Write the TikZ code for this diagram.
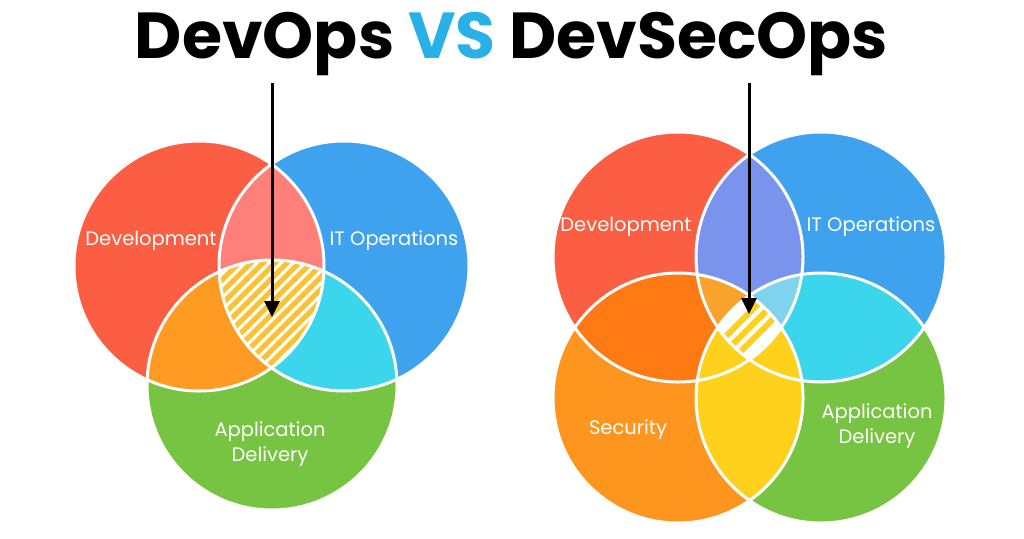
\documentclass[tikz,border=0pt]{standalone}
\usepackage{xcolor}
\usepackage{fontspec}
\setmainfont{Poppins}
\usepackage{tikz}
\usetikzlibrary{positioning,%
  arrows.meta
}

\definecolor{devrot}{HTML}{FB5E42}
\definecolor{itblau}{HTML}{3FA2EF}
\definecolor{appgruen}{HTML}{77C442}
\definecolor{secorange}{HTML}{FD951F}
\definecolor{rosa}{HTML}{FF807B}
\definecolor{orange}{HTML}{FF9B22}
\definecolor{tuerkis}{HTML}{3BD5EC}
\definecolor{lila}{HTML}{7A94EE}
\definecolor{dunkelorange}{HTML}{FF7A12}
\definecolor{gelb}{HTML}{FFD11C}
\definecolor{hellorange}{HTML}{F9A32C}
\definecolor{hellblau}{HTML}{80D3EE}
\definecolor{schraffur}{HTML}{F8C23D}
\definecolor{vsblau}{HTML}{29B0E6}

\newcommand{\kreisradius}{125pt}

\begin{document}
\begin{tikzpicture}
                    [
                        x=1pt, y=-1pt,
                        rand/.style={draw=white, line width=3pt},
                        beschriftung/.style={text=white, font=\fontsize{19.5}{25}\selectfont, align=center, inner sep=0pt},
                        pfeil/.style={line width=3pt, -{Triangle[width=15pt,length=16pt]}},
                        streifen/.style={line width=5pt, draw=schraffur}
                    ]

                    % Hintergrund
                    \fill[white] (0,0) rectangle (1024,538);
                    \useasboundingbox (0,0) rectangle (1024,538);

                    \node[anchor=base, font=\fontsize{65}{70}\selectfont\bfseries] (titel) at (511.5,58)
                        {DevOps \textcolor{vsblau}{VS} DevSecOps};

                    % DevOps
                    \coordinate (dev1) at (199,266);
                    \coordinate (it1) at (344,266);
                    \coordinate (app1) at (272,385);

                    \fill[devrot] (dev1) circle (\kreisradius);
                    \fill[itblau] (it1) circle (\kreisradius);
                    \fill[appgruen] (app1) circle (\kreisradius);
                    \begin{scope}
                        \clip (dev1) circle (\kreisradius);
                        \fill[rosa] (it1) circle (\kreisradius);
                        \fill[orange] (app1) circle (\kreisradius);
                    \end{scope}
                    \begin{scope}
                        \clip (it1) circle (\kreisradius);
                        \fill[tuerkis] (app1) circle (\kreisradius);
                    \end{scope}
                    \begin{scope}
                        \clip (dev1) circle (\kreisradius);
                        \clip (it1) circle (\kreisradius);
                        \clip (app1) circle (\kreisradius);
                        \fill[white] (app1) circle (\kreisradius);
                        \foreach \i in {-14,...,14}
                            \draw[streifen, shift={(272,314)}] (\i*12-120,120) -- (\i*12+120,-120);
                    \end{scope}
                    \foreach \k in {dev1,it1,app1}
                        \draw[rand] (\k) circle (\kreisradius);

                    \node[beschriftung] (devtext1) at (151,241) {Development};
                    \node[beschriftung] (ittext1) at (394,241) {IT Operations};
                    \node[beschriftung] (apptext1) at (270,444) {Application\\Delivery};

                    \coordinate (start1) at (272,83);
                    \coordinate (spitze1) at (272,317);
                    \draw[pfeil] (start1) -- (spitze1);

                    % DevSecOps
                    \coordinate (dev2) at (678,257);
                    \coordinate (it2) at (821,257);
                    \coordinate (sec2) at (678,398);
                    \coordinate (app2) at (821,398);

                    \fill[devrot] (dev2) circle (\kreisradius);
                    \fill[itblau] (it2) circle (\kreisradius);
                    \fill[secorange] (sec2) circle (\kreisradius);
                    \fill[appgruen] (app2) circle (\kreisradius);
                    \begin{scope}
                        \clip (dev2) circle (\kreisradius);
                        \fill[lila] (it2) circle (\kreisradius);
                        \fill[dunkelorange] (sec2) circle (\kreisradius);
                    \end{scope}
                    \begin{scope}
                        \clip (app2) circle (\kreisradius);
                        \fill[tuerkis] (it2) circle (\kreisradius);
                        \fill[gelb] (sec2) circle (\kreisradius);
                    \end{scope}
                    \begin{scope}
                        \clip (dev2) circle (\kreisradius);
                        \clip (it2) circle (\kreisradius);
                        \fill[hellorange] (sec2) circle (\kreisradius);
                        \fill[hellblau] (app2) circle (\kreisradius);
                    \end{scope}
                    \begin{scope}
                        \clip (sec2) circle (\kreisradius);
                        \clip (app2) circle (\kreisradius);
                        \fill[gelb] (dev2) circle (\kreisradius);
                        \fill[gelb] (it2) circle (\kreisradius);
                    \end{scope}
                    \begin{scope}
                        \clip (dev2) circle (\kreisradius);
                        \clip (it2) circle (\kreisradius);
                        \clip (sec2) circle (\kreisradius);
                        \clip (app2) circle (\kreisradius);
                        \fill[white] (dev2) circle (\kreisradius);
                        \foreach \i in {-1,0,1}
                            \draw[streifen, draw=gelb, line width=6pt, shift={(749.5,327.5)}] (\i*15-60,60) -- (\i*15+60,-60);
                    \end{scope}
                    \foreach \k in {dev2,it2,sec2,app2}
                        \draw[rand] (\k) circle (\kreisradius);

                    \node[beschriftung] (devtext2) at (626,227) {Development};
                    \node[beschriftung] (ittext2) at (871,227) {IT Operations};
                    \node[beschriftung] (sectext2) at (628,430) {Security};
                    \node[beschriftung] (apptext2) at (877,426) {Application\\Delivery};

                    \coordinate (start2) at (749,83);
                    \coordinate (spitze2) at (749,314);
                    \draw[pfeil] (start2) -- (spitze2);
                \end{tikzpicture}
\end{document}
